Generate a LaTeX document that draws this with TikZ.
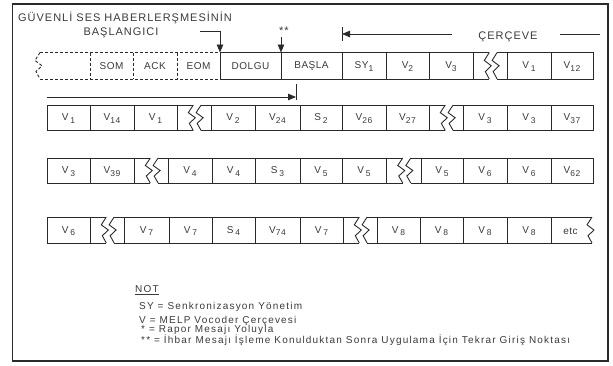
\documentclass[tikz,border=0pt]{standalone}
\usepackage{fontspec}
\setmainfont{Liberation Sans}[LetterSpace=5]
\newfontfamily\hdrfont{Liberation Sans}[LetterSpace=9]
\newfontfamily\legfont{Liberation Sans}[LetterSpace=12]
\usetikzlibrary{arrows.meta}
\definecolor{ink}{HTML}{2A2A2A}
\definecolor{txt}{HTML}{3A3A3A}
\newcommand{\sbs}[1]{\raisebox{-2.2pt}{\fontsize{8.5}{9}\selectfont #1}}
\newcommand{\vs}[1]{V\,\sbs{#1}}
\newcommand{\vn}[1]{V\sbs{#1}}
\newcommand{\sn}[1]{S\,\sbs{#1}}
\newcommand{\zzline}[4][]{% [style] x top bot
  \pgfmathsetmacro\zh{#4-#3}
  \draw[ln,#1] (#2+1,#3) -- (#2-4,#3+0.3*\zh) -- (#2+3,#3+0.5*\zh) -- (#2-3,#3+0.72*\zh) -- (#2+1,#4);}
\newcommand{\zzgap}[4]{% a b top bot
  \pgfmathsetmacro\zl{#1+0.45*(#2-#1)}
  \pgfmathsetmacro\zr{#1+0.68*(#2-#1)}
  \draw[ln] (#1,#3) -- (\zl+1,#3) (#1,#4) -- (\zl+1,#4);
  \draw[ln] (\zr+1,#3) -- (#2,#3) (\zr+1,#4) -- (#2,#4);
  \zzline{\zl}{#3}{#4}
  \zzline{\zr}{#3}{#4}}
\newcommand{\seg}[4]{% x1 x2 top bot
  \draw[ln] (#1,#3) rectangle (#2,#4);}
\newcommand{\divs}[3]{% list top bot
  \foreach \d in {#1} \draw[ln] (\d,#2) -- (\d,#3);}
\begin{document}
\begin{tikzpicture}[x=1pt,y=-1pt,
  ln/.style={draw=ink,line width=0.9pt},
  arr/.style={draw=ink,line width=0.9pt,-{Triangle[length=8pt,width=6.5pt]}},
  cell/.style={text=txt,font=\fontsize{10}{12}\selectfont,inner sep=0pt},
  hdr/.style={text=txt,font=\hdrfont\fontsize{11}{13}\selectfont,inner sep=0pt},
  leg/.style={text=txt,font=\legfont\fontsize{10}{12}\selectfont,inner sep=0pt,anchor=west}]
\useasboundingbox (0,0) rectangle (613,365);
\draw[draw=ink,line width=1.3pt] (12.5,4) rectangle (608,361);

% ---------- row 1 ----------
\def\ta{52.5}\def\ba{79}
\zzline[dash pattern=on 3pt off 2pt]{39}{\ta}{\ba}
\draw[ln,dash pattern=on 3pt off 2pt] (40,\ta) -- (220,\ta) (40,\ba) -- (220,\ba);
\foreach \d in {90,133,177} \draw[ln,dash pattern=on 3pt off 2pt] (\d,\ta) -- (\d,\ba);
\seg{220}{473}{\ta}{\ba}
\divs{281,342,386,429}{\ta}{\ba}
\zzgap{473}{507}{\ta}{\ba}
\seg{507}{593}{\ta}{\ba}
\divs{551}{\ta}{\ba}
\foreach \a/\b/\t [count=\i] in {90/133/SOM,133/177/ACK,177/220/EOM,220/281/DOLGU,281/342/BAŞLA,342/386/{SY\sbs{1}},386/429/{\vn{2}},429/473/{\vn{3}},507/551/{\vs{1}},551/593/{\vn{12}}}
  \node[cell] (ra\i) at ({(\a+\b)/2},66.5) {\t};

% ---------- row 2 ----------
\def\tb{105}\def\bb{130.5}
\seg{47}{177}{\tb}{\bb}\divs{90,134}{\tb}{\bb}
\zzgap{177}{211}{\tb}{\bb}
\seg{211}{429}{\tb}{\bb}\divs{255,300,342,386}{\tb}{\bb}
\zzgap{429}{463}{\tb}{\bb}
\seg{463}{593}{\tb}{\bb}\divs{507,551}{\tb}{\bb}
\foreach \a/\b/\t [count=\i] in {47/90/{\vs{1}},90/134/{\vn{14}},134/177/{\vs{1}},211/255/{\vs{2}},255/300/{\vn{24}},300/342/{\sn{2}},342/386/{\vn{26}},386/429/{\vn{27}},463/507/{\vs{3}},507/551/{\vs{3}},551/593/{\vn{37}}}
  \node[cell] (rb\i) at ({(\a+\b)/2},118.5) {\t};

% ---------- row 3 ----------
\def\tc{158}\def\bc{183}
\seg{47}{134}{\tc}{\bc}\divs{90}{\tc}{\bc}
\zzgap{134}{168}{\tc}{\bc}
\seg{168}{386}{\tc}{\bc}\divs{212,255,300,342}{\tc}{\bc}
\zzgap{386}{421}{\tc}{\bc}
\seg{421}{593}{\tc}{\bc}\divs{463,507,551}{\tc}{\bc}
\foreach \a/\b/\t [count=\i] in {47/90/{\vs{3}},90/134/{\vn{39}},168/212/{\vs{4}},212/255/{\vs{4}},255/300/{\sn{3}},300/342/{\vs{5}},342/386/{\vs{5}},421/463/{\vs{5}},463/507/{\vs{6}},507/551/{\vs{6}},551/593/{\vn{62}}}
  \node[cell] (rc\i) at ({(\a+\b)/2},171.5) {\t};

% ---------- row 4 ----------
\def\td{217}\def\bd{243}
\seg{47}{90}{\td}{\bd}
\zzgap{90}{124}{\td}{\bd}
\seg{124}{343}{\td}{\bd}\divs{169,212,255,300}{\td}{\bd}
\zzgap{343}{377}{\td}{\bd}
\seg{377}{551}{\td}{\bd}\divs{420,463,507}{\td}{\bd}
\draw[ln] (551,\td) -- (592,\td) (551,\bd) -- (592,\bd);
\zzline{591}{\td}{\bd}
\foreach \a/\b/\t [count=\i] in {47/90/{\vs{6}},124/169/{\vs{7}},169/212/{\vs{7}},212/255/{\sn{4}},255/300/{\vn{74}},300/343/{\vs{7}},377/420/{\vs{8}},420/463/{\vs{8}},463/507/{\vs{8}},507/551/{\vs{8}},551/590/{etc}}
  \node[cell] (rd\i) at ({(\a+\b)/2},231) {\t};

% ---------- labels and arrows above ----------
\node[hdr] (h1) at (125,18) {GÜVENLİ SES HABERLERŞMESİNİN};
\node[hdr] (h2) at (121,33) {BAŞLANGICI};
\coordinate (a1s) at (200,31);
\coordinate (a1k) at (220,31);
\coordinate (a1e) at (220,\ta);
\draw[arr] (a1s) -- (a1k) -- (a1e);

\node[hdr] (st) at (284,31) {**};
\coordinate (a2s) at (281,37);
\coordinate (a2e) at (281,\ta);
\draw[arr] (a2s) -- (a2e);

\node[hdr] (cer) at (508,37) {ÇERÇEVE};
\coordinate (c1s) at (452,34);
\coordinate (c1e) at (342,34);
\coordinate (c1t) at (342,27);
\coordinate (c1b) at (342,41);
\coordinate (c2s) at (560,34);
\coordinate (c2e) at (600,34);
\draw[arr] (c1s) -- (c1e);
\draw[ln] (c1t) -- (c1b);
\draw[ln] (c2s) -- (c2e);

\coordinate (f1s) at (47,97);
\coordinate (f1e) at (296,97);
\coordinate (f1t) at (296,84);
\coordinate (f1b) at (296,100);
\draw[arr] (f1s) -- (f1e);
\draw[ln] (f1t) -- (f1b);

% ---------- legend ----------
\node[leg] (n0) at (135,290) {\underline{NOT}};
\node[leg] (n1) at (139,307) {SY = Senkronizasyon Yönetim};
\node[leg] (n2) at (139,320.5) {V = MELP Vocoder Çerçevesi};
\node[leg] (n3) at (141,329.5) {* = Rapor Mesajı Yoluyla};
\node[leg] (n4) at (141,340) {** = İhbar Mesajı İşleme Konulduktan Sonra Uygulama İçin Tekrar Giriş Noktası};
\end{tikzpicture}
\end{document}
